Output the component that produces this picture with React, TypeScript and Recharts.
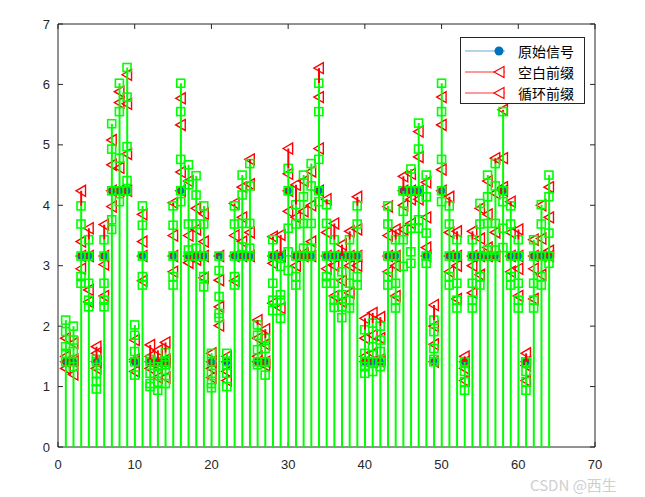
import React from "react";
import { ComposedChart, Bar, Scatter, XAxis, YAxis } from "recharts";

// subcarrier index
const idx = [
  1, 2, 3, 4, 5, 6, 7, 8, 9, 10, 11, 12, 13, 14, 15, 16, 17, 18, 19, 20, 21, 22,
  23, 24, 25, 26, 27, 28, 29, 30, 31, 32, 33, 34, 35, 36, 37, 38, 39, 40, 41, 42,
  43, 44, 45, 46, 47, 48, 49, 50, 51, 52, 53, 54, 55, 56, 57, 58, 59, 60, 61, 62,
  63, 64,
];

// 原始信号 (|16QAM| : 1.41 / 3.16 / 4.24)
const original = [
  1.41, 1.41, 3.16, 3.16, 1.41, 3.16, 4.24, 4.24, 4.24, 1.41,
  3.16, 1.41, 1.41, 1.41, 3.16, 4.24, 3.16, 3.16, 3.16, 1.41,
  3.16, 1.41, 3.16, 3.16, 3.16, 1.41, 1.41, 3.16, 3.16, 4.24,
  3.16, 3.16, 3.16, 4.24, 3.16, 3.16, 3.16, 3.16, 3.16, 1.41,
  1.41, 1.41, 3.16, 3.16, 4.24, 4.24, 4.24, 3.16, 1.41, 4.24,
  3.16, 3.16, 1.41, 3.16, 3.16, 3.16, 3.16, 4.24, 3.16, 3.16,
  1.41, 3.16, 3.16, 3.16,
];

// 循环前缀 (green squares)
const cp1 = [
  2.1, 2.0, 3.99, 3.43, 1.45, 3.43, 5.35, 6.02, 6.28, 2.02,
  3.99, 1.45, 1.33, 1.56, 3.99, 6.02, 4.67, 4.49, 3.99, 1.55,
  2.92, 1.55, 3.99, 4.5, 4.69, 2.02, 1.8, 3.43, 2.99, 4.61,
  4.01, 4.5, 4.69, 6.02, 4.01, 3.43, 2.9, 3.43, 3.99, 1.94,
  2.05, 2.0, 3.99, 3.43, 4.24, 4.6, 5.36, 4.5, 2.1, 6.02,
  3.99, 3.43, 1.41, 3.43, 4.03, 4.5, 4.69, 5.55, 3.99, 3.43,
  1.41, 3.43, 4.01, 4.5,
];
const cp2 = [
  1.91, 1.77, 3.69, 2.71, 1.22, 2.71, 4.93, 5.55, 5.79, 1.85,
  3.67, 1.22, 1.22, 1.36, 3.67, 5.55, 4.34, 4.17, 3.69, 1.22,
  2.49, 1.36, 3.69, 4.17, 4.32, 1.85, 1.63, 2.71, 2.52, 3.62,
  3.69, 4.14, 4.32, 5.55, 3.7, 2.71, 2.52, 2.71, 3.69, 1.55,
  1.66, 1.77, 3.69, 2.71, 3.9, 3.62, 4.93, 4.14, 1.91, 5.55,
  3.69, 2.71, 1.25, 2.71, 3.69, 4.14, 4.32, 4.06, 3.69, 2.71,
  1.25, 2.71, 3.69, 4.14,
];
const cp3 = [
  1.66, 1.58, 2.82, 2.43, 1.08, 2.43, 3.76, 4.78, 4.97, 1.58,
  2.82, 1.05, 1.05, 1.27, 2.82, 4.76, 3.69, 3.69, 2.82, 1.05,
  2.21, 1.22, 2.82, 3.7, 3.7, 1.61, 1.41, 2.43, 2.43, 3.23,
  2.82, 3.7, 3.7, 4.76, 2.82, 2.43, 2.32, 2.43, 2.82, 1.33,
  1.41, 1.58, 2.82, 2.43, 3.43, 3.23, 3.76, 3.54, 1.63, 4.76,
  2.82, 2.43, 1.08, 2.43, 2.82, 3.7, 3.7, 3.62, 2.82, 2.43,
  1.08, 2.43, 2.82, 3.54,
];
const cp4 = [
  1.55, 1.33, 2.71, 2.32, 0.96, 2.32, 3.6, 4.06, 4.41, 1.19,
  2.68, 1.0, 0.94, 1.05, 2.68, 4.06, 3.26, 3.29, 2.65, 0.98,
  2.14, 1.0, 2.68, 3.31, 3.29, 1.36, 1.19, 2.26, 2.13, 2.92,
  2.68, 3.29, 3.29, 4.06, 2.71, 2.31, 2.14, 2.3, 2.68, 1.22,
  1.25, 1.33, 2.68, 2.3, 2.99, 3.04, 3.62, 3.04, 1.45, 4.06,
  2.68, 2.3, 0.94, 2.3, 2.68, 3.26, 3.26, 3.3, 2.68, 2.3,
  0.94, 2.3, 2.68, 3.04,
];

// 空白前缀 (red triangles)
const bp1 = [
  1.8, 1.72, 4.24, 3.62, 1.66, 3.68, 5.08, 5.88, 6.16, 1.77,
  3.85, 1.69, 1.6, 1.73, 4.04, 5.77, 4.4, 3.95, 3.86, 1.55,
  2.76, 1.5, 4.03, 4.3, 4.76, 2.1, 1.95, 3.48, 3.51, 4.94,
  4.34, 4.4, 4.56, 6.27, 4.1, 3.7, 3.35, 3.57, 4.14, 2.13,
  2.22, 2.15, 3.98, 3.6, 4.48, 4.52, 5.22, 4.38, 2.35, 5.79,
  4.14, 3.57, 1.5, 3.57, 3.95, 4.4, 4.78, 5.58, 4.06, 3.6,
  1.55, 3.43, 4.0, 4.3,
];
const bp2 = [
  1.5, 1.45, 3.4, 2.6, 1.55, 3.02, 4.67, 5.7, 5.68, 1.45,
  3.4, 1.5, 1.35, 1.45, 3.5, 5.33, 3.5, 3.6, 3.4, 1.3,
  2.32, 1.25, 3.5, 3.8, 4.35, 1.8, 1.7, 3.04, 3.16, 4.52,
  3.8, 3.9, 4.0, 5.79, 3.55, 3.0, 2.75, 3.0, 3.6, 1.8,
  1.85, 1.8, 3.5, 3.0, 4.0, 4.1, 4.8, 3.8, 2.0, 5.33,
  3.55, 3.0, 1.3, 3.0, 3.45, 3.85, 4.2, 4.78, 3.55, 2.95,
  1.35, 2.95, 3.45, 3.8,
];
const bp3 = [
  1.3, 1.2, 2.95, 2.4, 1.3, 2.5, 3.98, 4.62, 4.85, 1.25,
  2.75, 1.3, 1.15, 1.15, 2.9, 4.55, 3.05, 3.1, 2.8, 1.15,
  2.01, 1.1, 2.75, 3.4, 3.55, 1.5, 1.35, 2.38, 2.3, 3.9,
  3.0, 3.2, 3.4, 4.94, 2.95, 2.5, 2.4, 2.55, 3.0, 1.5,
  1.55, 1.45, 2.9, 2.5, 3.6, 3.7, 4.1, 3.3, 1.7, 4.59,
  2.9, 2.45, 1.1, 2.55, 2.85, 3.3, 3.55, 4.3, 2.9, 2.5,
  1.1, 2.45, 2.85, 3.25,
];

const xTicks = [0, 10, 20, 30, 40, 50, 60, 70];
const yTicks = [0, 1, 2, 3, 4, 5, 6, 7];

const BLUE = "#0072bd";
const RED = "#ff0000";
const GREEN = "#00ff00";
const AXIS = "#262626";

const rows = idx.map((x, i) => {
  const gTop = Math.max(original[i], cp1[i], cp2[i], cp3[i], cp4[i]);
  const rTop = Math.max(original[i], bp1[i], bp2[i], bp3[i]);
  return {
    x,
    original: original[i],
    cp1: cp1[i],
    cp2: cp2[i],
    cp3: cp3[i],
    cp4: cp4[i],
    bp1: bp1[i],
    bp2: bp2[i],
    bp3: bp3[i],
    stemG: gTop,
    stemR: Math.max(0, rTop - gTop),
  };
});

const Dot = (p: any) => <circle cx={p.cx} cy={p.cy} r={3.8} fill={BLUE} />;

const Tri = (p: any) => (
  <polygon
    points={`${p.cx - 5},${p.cy} ${p.cx + 4.5},${p.cy - 5.5} ${p.cx + 4.5},${p.cy + 5.5}`}
    fill="none"
    stroke={RED}
    strokeWidth={1.4}
  />
);

const Sq = (p: any) => (
  <rect
    x={p.cx - 4}
    y={p.cy - 4}
    width={8}
    height={8}
    fill="none"
    stroke={GREEN}
    strokeWidth={1.6}
  />
);

const Nothing = () => <g />;

const tickFont = { fontSize: 13, fill: AXIS, fontFamily: "'Liberation Sans', Arial, sans-serif" };

function LegendBox() {
  const items = [
    { label: "原始信号", color: BLUE, kind: "dot" },
    { label: "空白前缀", color: RED, kind: "tri" },
    { label: "循环前缀", color: RED, kind: "tri" },
  ];
  return (
    <div
      style={{
        position: "absolute",
        left: 460,
        top: 37,
        width: 125,
        height: 67,
        boxSizing: "border-box",
        border: "1px solid #262626",
        background: "#fff",
      }}
    >
      {items.map((it, i) => (
        <div
          key={it.label}
          style={{ position: "absolute", left: 0, top: 3 + i * 21, height: 20, width: 123 }}
        >
          <svg width={50} height={20} style={{ position: "absolute", left: 0, top: 0 }}>
            <line x1={4} y1={10} x2={44} y2={10} stroke={it.color} strokeWidth={1} opacity={it.kind === "dot" ? 0.6 : 0.8} />
            {it.kind === "dot" ? (
              <circle cx={38} cy={10} r={4.5} fill={BLUE} />
            ) : (
              <polygon points="33,10 43,4.5 43,15.5" fill="#fff" stroke={RED} strokeWidth={1.2} />
            )}
          </svg>
          <span
            style={{
              position: "absolute",
              left: 57,
              top: 0,
              lineHeight: "20px",
              fontSize: 14,
              color: "#000",
              fontFamily: "'Noto Sans CJK SC', sans-serif",
              whiteSpace: "nowrap",
            }}
          >
            {it.label}
          </span>
        </div>
      ))}
    </div>
  );
}

export default function App() {
  return (
    <div style={{ position: "absolute", left: 0, top: 0, width: 645, height: 497, background: "#fff" }}>
      <ComposedChart
        width={645}
        height={497}
        data={rows}
        margin={{ top: 23, right: 49, bottom: 28, left: 0 }}
      >
        <XAxis
          dataKey="x"
          type="number"
          domain={[0, 70]}
          ticks={xTicks}
          allowDataOverflow
          height={22}
          tickSize={-5}
          tickMargin={18}
          axisLine={{ stroke: AXIS }}
          tickLine={{ stroke: AXIS }}
          tick={tickFont}
        />
        <XAxis
          xAxisId="top"
          orientation="top"
          dataKey="x"
          type="number"
          domain={[0, 70]}
          ticks={xTicks}
          allowDataOverflow
          height={1}
          tickSize={-5}
          tickFormatter={() => ""}
          axisLine={{ stroke: AXIS }}
          tickLine={{ stroke: AXIS }}
        />
        <YAxis
          type="number"
          domain={[0, 7]}
          ticks={yTicks}
          allowDataOverflow
          width={58}
          tickSize={-5}
          tickMargin={13}
          axisLine={{ stroke: AXIS }}
          tickLine={{ stroke: AXIS }}
          tick={tickFont}
        />
        <YAxis
          yAxisId="right"
          orientation="right"
          type="number"
          domain={[0, 7]}
          ticks={yTicks}
          allowDataOverflow
          width={1}
          tickSize={-5}
          tickFormatter={() => ""}
          axisLine={{ stroke: AXIS }}
          tickLine={{ stroke: AXIS }}
        />

        {/* binds the box axes (top / right) */}
        <Scatter xAxisId="top" yAxisId="right" dataKey="original" shape={Nothing} isAnimationActive={false} />

        {/* 原始信号 */}
        <Scatter dataKey="original" shape={Dot} isAnimationActive={false} />

        {/* 空白前缀 */}
        <Scatter dataKey="original" shape={Tri} isAnimationActive={false} />
        <Scatter dataKey="bp1" shape={Tri} isAnimationActive={false} />
        <Scatter dataKey="bp2" shape={Tri} isAnimationActive={false} />
        <Scatter dataKey="bp3" shape={Tri} isAnimationActive={false} />

        {/* stems */}
        <Bar dataKey="stemG" stackId="stem" fill={GREEN} barSize={2} zIndex={700} isAnimationActive={false} />
        <Bar dataKey="stemR" stackId="stem" fill={RED} barSize={2} zIndex={700} isAnimationActive={false} />

        {/* 循环前缀 */}
        <Scatter dataKey="original" shape={Sq} isAnimationActive={false} />
        <Scatter dataKey="cp1" shape={Sq} isAnimationActive={false} />
        <Scatter dataKey="cp2" shape={Sq} isAnimationActive={false} />
        <Scatter dataKey="cp3" shape={Sq} isAnimationActive={false} />
        <Scatter dataKey="cp4" shape={Sq} isAnimationActive={false} />
      </ComposedChart>
      <LegendBox />
      <div
        style={{
          position: "absolute",
          left: 530,
          top: 477,
          fontSize: 15,
          lineHeight: 1,
          color: "#cfcfcf",
          fontFamily: "'Noto Sans CJK SC', sans-serif",
          whiteSpace: "nowrap",
        }}
      >
        CSDN @西生
      </div>
    </div>
  );
}
